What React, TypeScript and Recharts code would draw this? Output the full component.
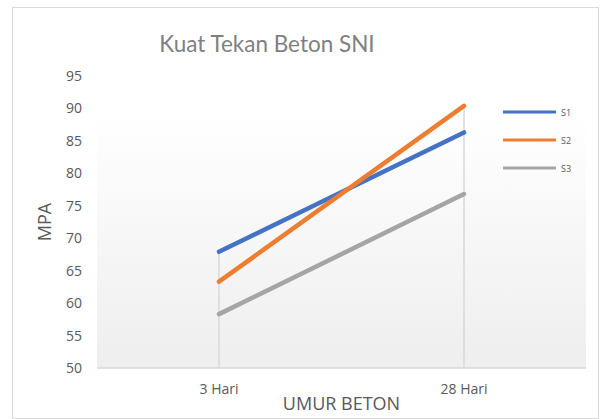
import {
  LineChart, Line, XAxis, YAxis, CartesianGrid, Legend, ReferenceLine,
} from "recharts";

const categories = ["3 Hari", "28 Hari"];
const s1 = [67.9, 86.3];
const s2 = [63.3, 90.4];
const s3 = [58.3, 76.8];
const yTicks = [50, 55, 60, 65, 70, 75, 80, 85, 90, 95];

const series = [
  { key: "S1", color: "#4472C4" },
  { key: "S2", color: "#ED7D31" },
  { key: "S3", color: "#A5A5A5" },
];

const data = categories.map((c, i) => ({ name: c, S1: s1[i], S2: s2[i], S3: s3[i] }));
const tops = categories.map((_, i) => Math.max(s1[i], s2[i], s3[i]));

const LegendBox = ({ payload }: any) => (
  <div>
    {(payload || []).map((p: any) => (
      <div key={p.value} style={{ display: "flex", alignItems: "center", height: 28 }}>
        <svg width={53} height={4} style={{ display: "block" }}>
          <line x1={0} y1={2} x2={53} y2={2} stroke={p.color} strokeWidth={3} />
        </svg>
        <span style={{ fontSize: 9, color: "#595959", marginLeft: 5, fontFamily: "Open Sans" }}>{p.value}</span>
      </div>
    ))}
  </div>
);

export default function App() {
  const font = "Open Sans";
  return (
    <div style={{ position: "absolute", left: 0, top: 0, width: 604, height: 419, background: "#fff", fontFamily: font }}>
      <div style={{ position: "absolute", left: 12, top: 7, width: 587, height: 412, border: "1px solid #d9d9d9", boxSizing: "border-box" }} />
      <div style={{ position: "absolute", left: 0, top: 32, width: 534, textAlign: "center", fontFamily: "Lato", fontSize: 22.5, lineHeight: "23px", color: "#7f7f7f" }}>
        Kuat Tekan Beton SNI
      </div>
      <div style={{ position: "absolute", left: 0, top: 0 }}>
        <LineChart width={604} height={419} data={data} margin={{ top: 76, right: 18, bottom: 6, left: 12 }}>
          <defs>
            <linearGradient id="plotBg" x1="0" y1="0" x2="0" y2="1">
              <stop offset="0%" stopColor="#ffffff" />
              <stop offset="13%" stopColor="#ffffff" />
              <stop offset="100%" stopColor="#eeeeee" />
            </linearGradient>
          </defs>
          <CartesianGrid horizontal={false} vertical={false} fill="url(#plotBg)" fillOpacity={1} />
          <XAxis
            dataKey="name"
            padding={{ left: 122, right: 122 }}
            axisLine={{ stroke: "#d9d9d9", strokeWidth: 1.5 }}
            tickLine={false}
            tickMargin={10}
            height={45}
            tick={{ fill: "#595959", fontSize: 14, fontFamily: font }}
            label={{ value: "UMUR BETON", position: "insideBottom", offset: 3, fill: "#595959", fontSize: 18, fontFamily: font }}
          />
          <YAxis
            domain={[50, 95]}
            ticks={yTicks}
            width={85}
            axisLine={false}
            tickLine={false}
            tickMargin={9}
            tick={{ fill: "#595959", fontSize: 14, fontFamily: font }}
            label={{ value: "MPA", angle: -90, position: "center", dx: -10, fill: "#595959", fontSize: 18, fontFamily: font }}
          />
          {categories.map((c, i) => (
            <ReferenceLine
              key={c}
              segment={[{ x: c, y: 50 }, { x: c, y: tops[i] }]}
              stroke="#d9d9d9"
              strokeWidth={1.5}
            />
          ))}
          {series.map((s) => (
            <Line
              key={s.key}
              type="linear"
              dataKey={s.key}
              stroke={s.color}
              strokeWidth={4.5}
              strokeLinecap="round"
              dot={false}
              activeDot={false}
              isAnimationActive={false}
            />
          ))}
          <Legend
            layout="horizontal"
            align="center"
            verticalAlign="middle"
            content={<LegendBox />}
            wrapperStyle={{ left: 503, top: 98, width: 90 }}
          />
        </LineChart>
      </div>
    </div>
  );
}
